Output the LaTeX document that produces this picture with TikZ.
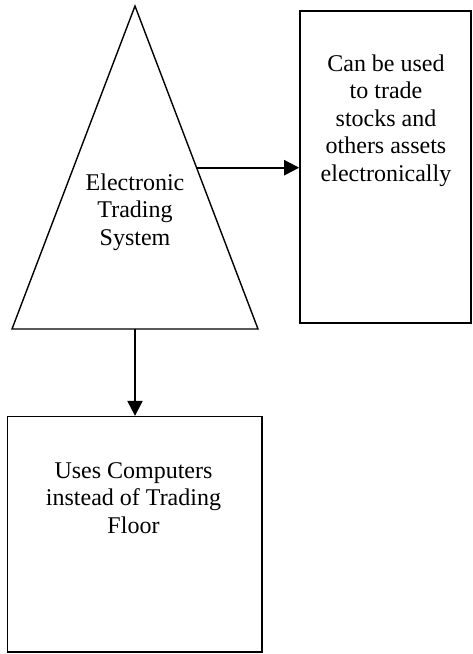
\documentclass[tikz,border=0pt]{standalone}
\usepackage{fontspec}
\setmainfont{Liberation Serif}
\usetikzlibrary{arrows.meta}
\begin{document}
\begin{tikzpicture}[x=1pt,y=-1pt,
  boxshape/.style={draw, line width=1.6pt, inner sep=0pt, minimum width=#1},
  trishape/.style={draw, line width=1.4pt, line join=miter},
  arr/.style={line width=2.2pt, -{Triangle[length=15pt,width=15pt]}},
  lbl/.style={font=\fontsize{24}{27.5}\selectfont, align=center, inner sep=0pt, anchor=north}]
\useasboundingbox (0,0) rectangle (472,654);
% triangle
\coordinate (tri-top) at (135,6);
\coordinate (tri-l) at (12,329);
\coordinate (tri-r) at (258,329);
\draw[trishape] (tri-top) -- (tri-r) -- (tri-l) -- cycle;
\coordinate (tri-e) at (196.6,167.7);
\coordinate (tri-s) at (135,329);
\node[lbl] (tritext) at (135,173.6) {Electronic\\Trading\\System};
% right box
\node[boxshape=171pt, minimum height=312.3pt] (rbox) at (385.5,166.9) {};
\node[lbl] (rtext) at (386,54.3) {Can be used\\to trade\\stocks and\\others assets\\electronically};
% bottom box
\node[boxshape=254.4pt, minimum height=235.3pt] (bbox) at (134.5,534.3) {};
\node[lbl] (btext) at (133.5,462.1) {Uses Computers\\instead of Trading\\Floor};
% connectors
\draw[arr] (tri-e) -- (tri-e -| rbox.west);
\draw[arr] (tri-s) -- (tri-s |- bbox.north);
\end{tikzpicture}
\end{document}
